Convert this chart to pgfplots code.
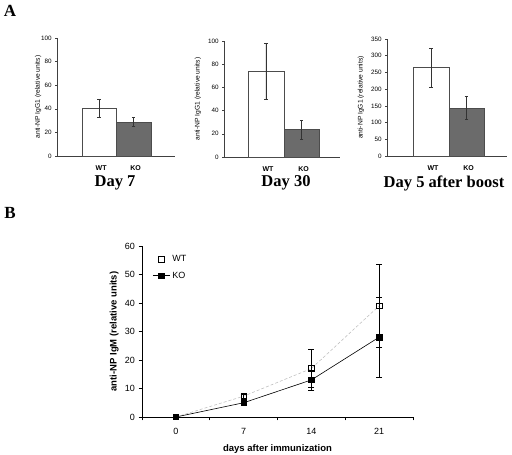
\documentclass[border=0pt]{standalone}
\usepackage{pgfplots}
\pgfplotsset{compat=1.18}
\usepackage{fontspec}
\setmainfont{Liberation Serif}
\setsansfont{Liberation Sans}
\definecolor{kobar}{HTML}{6B6B6B}
\pgfplotsset{
  /pgf/number format/assume math mode=true,
  panelA/.style={
    scale only axis, axis lines*=left, ymin=0, clip=false,
    bar width=1, xtick={1,2}, xticklabels={WT,KO},
    x tick style={draw=none}, y tick style={black!75, line width=0.5pt},
    tick align=outside, major tick length=1.8pt,
    axis line style={-, black!75, line width=0.6pt},
    tick label style={font=\sffamily\fontsize{6.3}{6.3}\selectfont},
    xticklabel style={font=\sffamily\bfseries\fontsize{7}{7}\selectfont, yshift=-4pt, xshift=2pt},
    ylabel={anti-NP IgG1 (relative units)},
    ylabel style={font=\sffamily\fontsize{6.7}{6.7}\selectfont, anchor=center},
    error bars/error bar style={black!80, line width=0.45pt},
    error bars/error mark options={rotate=90, mark size=1.8pt, black!80, line width=0.45pt},
  },
  wtbar/.style={ybar, bar shift=0pt, draw=black!70, fill=white, line width=0.5pt,
    error bars/.cd, y dir=both, y explicit},
  kobar/.style={ybar, bar shift=0pt, draw=black!70, fill=kobar, line width=0.5pt,
    error bars/.cd, y dir=both, y explicit},
}
\begin{document}
\begin{tikzpicture}[x=1pt,y=1pt]
\path[use as bounding box, fill=white] (0pt,0pt) rectangle (512pt,455pt);
\node[font=\rmfamily\bfseries\fontsize{17}{17}\selectfont] at (10pt,444pt) {A};
\node[font=\rmfamily\bfseries\fontsize{17}{17}\selectfont] at (10pt,242pt) {B};

% Day 7
\begin{axis}[panelA, at={(57pt,299pt)}, anchor=south west, width=118pt, height=118pt,
  xmin=-0.22, xmax=3.2, ymax=100, ytick={0,20,...,100},
  ylabel style={at={(axis description cs:-0.16,0.5)}}]
\addplot[wtbar] coordinates {(1,40.5) +- (0,7.5)};
\addplot[kobar] coordinates {(2,29) +- (0,4)};
\end{axis}
\node[font=\rmfamily\bfseries\fontsize{16.5}{16.5}\selectfont] at (115pt,272pt) {Day 7};

% Day 30
\begin{axis}[panelA, at={(224pt,298pt)}, anchor=south west, width=116pt, height=116pt,
  xmin=-0.18, xmax=3.08, ymax=100, ytick={0,20,...,100},
  ylabel style={at={(axis description cs:-0.224,0.5)}}]
\addplot[wtbar] coordinates {(1,74) +- (0,24)};
\addplot[kobar] coordinates {(2,23.5) +- (0,8)};
\end{axis}
\node[font=\rmfamily\bfseries\fontsize{16.5}{16.5}\selectfont] at (286pt,272pt) {Day 30};

% Day 5 after boost
\begin{axis}[panelA, at={(387pt,299pt)}, anchor=south west, width=120pt, height=117pt,
  xmin=-0.24, xmax=3.14, ymax=350, ytick={0,50,...,350},
  ylabel style={at={(axis description cs:-0.217,0.5)}}]
\addplot[wtbar] coordinates {(1,264) +- (0,57)};
\addplot[kobar] coordinates {(2,144) +- (0,35)};
\end{axis}
\node[font=\rmfamily\bfseries\fontsize{16.5}{16.5}\selectfont] at (444pt,272pt) {Day 5 after boost};

% Panel B
\begin{axis}[at={(142pt,38pt)}, anchor=south west, scale only axis, width=271pt, height=171pt,
  axis lines*=left, axis line style={-, black, line width=0.7pt},
  xmin=-0.5, xmax=3.5, ymin=0, ymax=60, ytick={0,10,...,60},
  xtick={-0.5,0.5,1.5,2.5,3.5}, xticklabels={},
  extra x ticks={0,1,2,3}, extra x tick labels={0,7,14,21},
  extra x tick style={major tick length=0pt, xticklabel style={yshift=-8pt}},
  tick align=outside, major tick length=3.5pt,
  tick style={black, line width=0.6pt},
  tick label style={font=\sffamily\fontsize{9}{9}\selectfont},
  xlabel={days after immunization}, ylabel={anti-NP IgM (relative units)},
  label style={font=\sffamily\bfseries\fontsize{9.5}{9.5}\selectfont},
  ylabel style={at={(axis description cs:-0.103,0.5)}, anchor=center},
  xlabel style={at={(axis description cs:0.5,-0.187)}, anchor=center},
  clip=false,
  legend style={draw=none, fill=none, at={(axis description cs:0.035,0.965)}, anchor=north west,
    font=\sffamily\fontsize{9}{9}\selectfont, row sep=5pt, inner sep=1pt},
  legend cell align=left,
]
\addplot[forget plot, gray!55, densely dashed, line width=0.5pt, mark=square, mark size=2.8pt,
  mark options={solid, fill=white, draw=black, line width=0.6pt},
  error bars/.cd, y dir=both, y explicit,
  error bar style={solid, black, line width=0.6pt},
  error mark options={solid, rotate=90, mark size=3pt, black, line width=0.6pt}]
  coordinates {(0,0) +- (0,0) (1,7.3) +- (0,0.8) (2,17) +- (0,6.7) (3,39) +- (0,14.6)};
\addplot[forget plot, black, line width=0.6pt, mark=square*, mark size=2.8pt,
  mark options={solid, fill=black, draw=black},
  error bars/.cd, y dir=both, y explicit,
  error bar style={solid, black, line width=0.6pt},
  error mark options={solid, rotate=90, mark size=3pt, black, line width=0.6pt}]
  coordinates {(0,0) +- (0,0) (1,5) +- (0,0.6) (2,13) +- (0,3.5) (3,28) +- (0,13.9)};
\addlegendimage{only marks, mark=square, mark size=2.8pt, mark options={fill=white, draw=black, line width=0.6pt}}
\addlegendentry{WT}
\addlegendimage{black, line width=0.6pt, mark=square*, mark size=2.8pt}
\addlegendentry{KO}
\end{axis}
\end{tikzpicture}
\end{document}
